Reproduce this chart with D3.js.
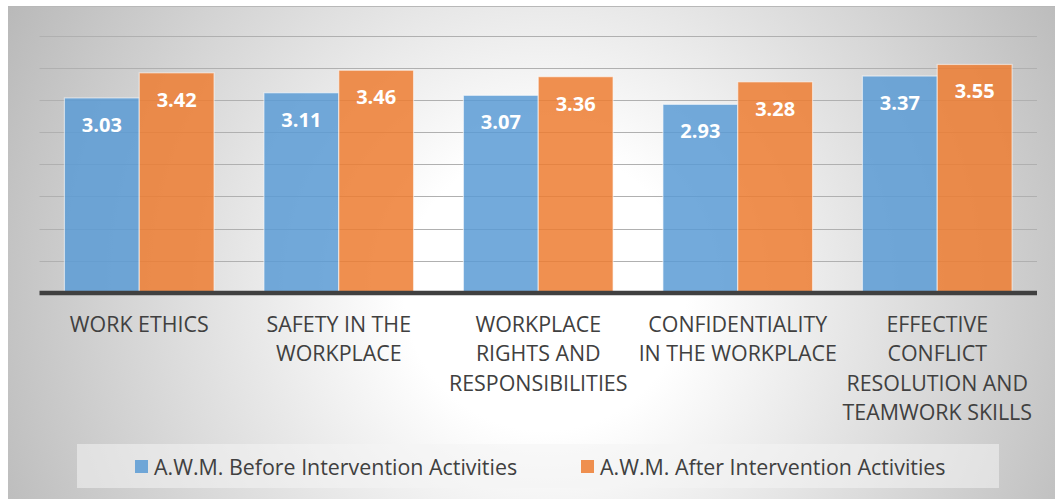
<!DOCTYPE html>
<html>
<head>
<meta charset="utf-8">
<script src="https://cdn.jsdelivr.net/npm/d3@7"></script>
<style>
  body { margin: 0; background: #ffffff; }
  svg { display: block; font-family: "Open Sans", sans-serif; }
</style>
</head>
<body>
<svg id="chart" width="1055" height="499"></svg>
<script>
// chart values
const categories = [
  ["WORK ETHICS"],
  ["SAFETY IN THE", "WORKPLACE"],
  ["WORKPLACE", "RIGHTS AND", "RESPONSIBILITIES"],
  ["CONFIDENTIALITY", "IN THE WORKPLACE"],
  ["EFFECTIVE", "CONFLICT", "RESOLUTION AND", "TEAMWORK SKILLS"]
];
const seriesNames = ["A.W.M. Before Intervention Activities", "A.W.M. After Intervention Activities"];
const beforeValues = [3.03, 3.11, 3.07, 2.93, 3.37];
const afterValues = [3.42, 3.46, 3.36, 3.28, 3.55];
const seriesColors = ["#5B9BD5", "#ED7D31"];

const svg = d3.select("#chart");
const width = 1055, height = 499;

// radial background of the chart area
const defs = svg.append("defs");
const grad = defs.append("radialGradient")
  .attr("id", "bg")
  .attr("gradientUnits", "userSpaceOnUse")
  .attr("cx", 545).attr("cy", 290).attr("r", 640);
grad.append("stop").attr("offset", 0).attr("stop-color", "#ffffff");
grad.append("stop").attr("offset", 0.22).attr("stop-color", "#ffffff");
grad.append("stop").attr("offset", 1).attr("stop-color", "#b4b4b4");

svg.append("rect")
  .attr("x", 8).attr("y", 6)
  .attr("width", width - 8).attr("height", height - 6)
  .attr("fill", "url(#bg)");
svg.append("line")
  .attr("x1", 8).attr("x2", width)
  .attr("y1", 6.5).attr("y2", 6.5)
  .attr("stroke", "#b8b8b8").attr("stroke-width", 1);

// scales
const x0 = d3.scaleBand()
  .domain(d3.range(categories.length))
  .range([39.5, 1037])
  .paddingInner(0.25)
  .paddingOuter(0.125);

const x1 = d3.scaleBand()
  .domain(d3.range(seriesNames.length))
  .range([0, x0.bandwidth()]);

const y = d3.scaleLinear()
  .domain([0, 4])
  .range([293, 35.5]);

// gridlines
svg.append("g")
  .selectAll("line")
  .data(y.ticks(8).filter(d => d > 0))
  .join("line")
  .attr("x1", 39.5).attr("x2", 1037)
  .attr("y1", d => Math.round(y(d)) + 0.5)
  .attr("y2", d => Math.round(y(d)) + 0.5)
  .attr("stroke", "#b0b0b0")
  .attr("stroke-width", 1.2);

// bars
const rows = categories.map((c, i) => ({ i: i, values: [beforeValues[i], afterValues[i]] }));

const groups = svg.append("g")
  .selectAll("g")
  .data(rows)
  .join("g")
  .attr("transform", d => `translate(${x0(d.i)},0)`);

groups.selectAll("rect")
  .data(d => d.values.map((v, s) => ({ s: s, v: v })))
  .join("rect")
  .attr("x", d => x1(d.s))
  .attr("y", d => y(d.v))
  .attr("width", x1.bandwidth())
  .attr("height", d => y(0) - y(d.v))
  .attr("fill", d => seriesColors[d.s])
  .attr("fill-opacity", 0.85)
  .attr("stroke", "#ffffff")
  .attr("stroke-opacity", 0.55)
  .attr("stroke-width", 1.2);

// value labels, inside end
groups.selectAll("text")
  .data(d => d.values.map((v, s) => ({ s: s, v: v })))
  .join("text")
  .attr("x", d => x1(d.s) + x1.bandwidth() / 2)
  .attr("y", d => y(d.v) + 34)
  .attr("text-anchor", "middle")
  .attr("fill", "#ffffff")
  .style("font-weight", "bold")
  .style("font-size", "20px")
  .text(d => d3.format(".2f")(d.v));

// x axis line
svg.append("line")
  .attr("x1", 39.5).attr("x2", 1037)
  .attr("y1", y(0)).attr("y2", y(0))
  .attr("stroke", "#404040")
  .attr("stroke-width", 4.5);

// category labels
svg.append("g")
  .selectAll("text")
  .data(categories)
  .join("text")
  .attr("text-anchor", "middle")
  .attr("fill", "#404040")
  .style("font-size", "21.4px")
  .each(function (lines, i) {
    d3.select(this).selectAll("tspan")
      .data(lines)
      .join("tspan")
      .attr("x", x0(i) + x0.bandwidth() / 2)
      .attr("y", (d, k) => 332 + k * 29.4)
      .text(d => d);
  });

// legend
svg.append("rect")
  .attr("x", 77).attr("y", 444)
  .attr("width", 922).attr("height", 44)
  .attr("fill", "#f4f4f4")
  .attr("fill-opacity", 0.55);

const legendX = [135, 581];
const legend = svg.append("g")
  .selectAll("g")
  .data(seriesNames)
  .join("g")
  .attr("transform", (d, i) => `translate(${legendX[i]},460)`);

legend.append("rect")
  .attr("width", 13).attr("height", 13)
  .attr("fill", (d, i) => seriesColors[i])
  .attr("fill-opacity", 0.85);

legend.append("text")
  .attr("x", 19)
  .attr("y", 14.5)
  .attr("fill", "#404040")
  .style("font-size", "21.4px")
  .text(d => d);
</script>
</body>
</html>
